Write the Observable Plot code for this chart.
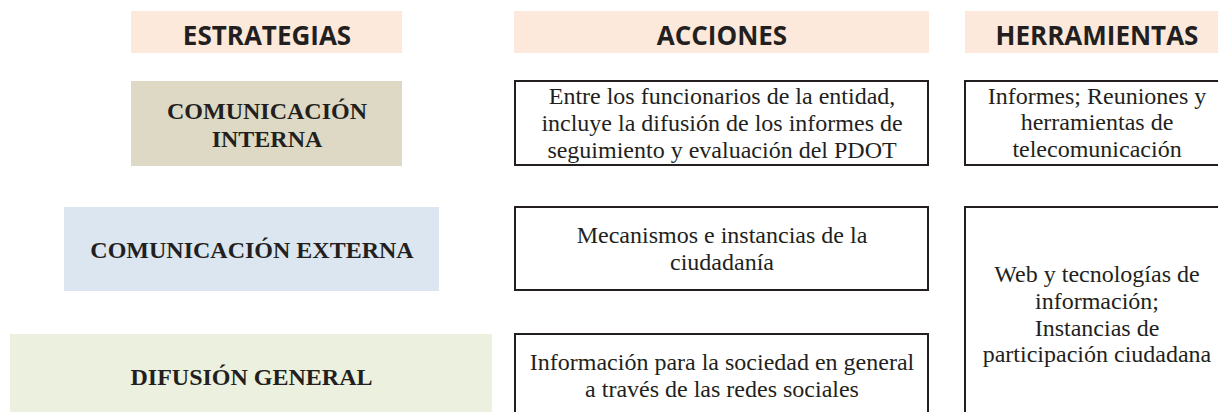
<!DOCTYPE html>
<html>
<head>
<meta charset="utf-8">
<script src="https://cdn.jsdelivr.net/npm/d3@7"></script>
<script src="https://cdn.jsdelivr.net/npm/@observablehq/plot@0.6"></script>
<style>
  html, body { margin: 0; padding: 0; background: #fff; }
  #chart { width: 1218px; height: 412px; overflow: hidden; }
  #chart svg { overflow: hidden; display: block; }
</style>
</head>
<body>
<div id="chart"></div>
<script>
// ---- content ----
const columns = ["ESTRATEGIAS", "ACCIONES", "HERRAMIENTAS"];
const strategies = [
  "COMUNICACIÓN\nINTERNA",
  "COMUNICACIÓN EXTERNA",
  "DIFUSIÓN GENERAL"
];
const actions = [
  "Entre los funcionarios de la entidad,\nincluye la difusión de los informes de\nseguimiento y evaluación del PDOT",
  "Mecanismos e instancias de la\nciudadanía",
  "Información para la sociedad en general\na través de las redes sociales"
];
const tools = [
  "Informes; Reuniones y\nherramientas de\ntelecomunicación",
  "Web y tecnologías de\ninformación;\nInstancias de\nparticipación ciudadana"
];
// which strategy rows each tool spans (first, last)
const toolRowSpans = [[0, 0], [1, 2]];

// ---- layout (pixels) ----
const W = 1218, H = 412;
const headerY = [11, 53];
const colX = {ESTRATEGIAS: [131, 402], ACCIONES: [514, 929], HERRAMIENTAS: [965, 1228]};
const rowY = [[81, 166], [207, 291], [334, 418]];
const strategyX = [[131, 402], [64, 439], [10, 492]];
const strategyFill = ["#DDD9C4", "#DCE6F1", "#EBF1DE"];
const headerFill = "#FCE9DB";
const ink = "#231F20";
const serif = "'Liberation Serif', 'Times New Roman', Tinos, Times, serif";

const headers = columns.map(c => ({text: c, x1: colX[c][0], x2: colX[c][1], y1: headerY[0], y2: headerY[1]}));
const stratBoxes = strategies.map((t, i) => ({text: t, x1: strategyX[i][0], x2: strategyX[i][1], y1: rowY[i][0], y2: rowY[i][1], fill: strategyFill[i]}));
const actionBoxes = actions.map((t, i) => ({text: t, x1: colX.ACCIONES[0] + 1, x2: colX.ACCIONES[1] - 1, y1: rowY[i][0], y2: rowY[i][1] - 1}));
const toolBoxes = tools.map((t, i) => ({text: t, x1: colX.HERRAMIENTAS[0], x2: colX.HERRAMIENTAS[1], y1: rowY[toolRowSpans[i][0]][0], y2: rowY[toolRowSpans[i][1]][1] + (toolRowSpans[i][1] > toolRowSpans[i][0] ? 5 : -1)}));

const cx = d => (d.x1 + d.x2) / 2;
const cy = d => (d.y1 + d.y2) / 2;

const chart = Plot.plot({
  width: W,
  height: H,
  margin: 0,
  x: {domain: [0, W], range: [0, W], axis: null},
  y: {domain: [0, H], range: [0, H], axis: null},
  style: {background: "#fff"},
  marks: [
    // headers
    Plot.rect(headers, {x1: "x1", x2: "x2", y1: "y1", y2: "y2", fill: headerFill}),
    Plot.text(headers, {x: cx, y: d => cy(d) + 4, text: "text", fontFamily: "Open Sans", fontWeight: 700, fontSize: 26, fill: ink}),
    // strategies
    Plot.rect(stratBoxes, {x1: "x1", x2: "x2", y1: "y1", y2: "y2", fill: "fill"}),
    Plot.text(stratBoxes, {x: cx, y: d => cy(d) - 0.3, text: "text", fontFamily: serif, fontWeight: 700, fontSize: 24, lineHeight: 1.183, fill: ink}),
    // actions
    Plot.rect(actionBoxes, {x1: "x1", x2: "x2", y1: "y1", y2: "y2", fill: "#fff", stroke: ink, strokeWidth: 2}),
    Plot.text(actionBoxes, {x: cx, y: d => cy(d) - 1, text: "text", fontFamily: serif, fontSize: 24, lineHeight: 1.125, fill: ink}),
    // tools
    Plot.rect(toolBoxes, {x1: "x1", x2: "x2", y1: "y1", y2: "y2", fill: "#fff", stroke: ink, strokeWidth: 2}),
    Plot.text(toolBoxes, {x: cx, y: d => cy(d) - 1.8, text: "text", fontFamily: serif, fontSize: 24, lineHeight: 1.11, fill: ink})
  ]
});
document.getElementById("chart").appendChild(chart);
</script>
</body>
</html>
